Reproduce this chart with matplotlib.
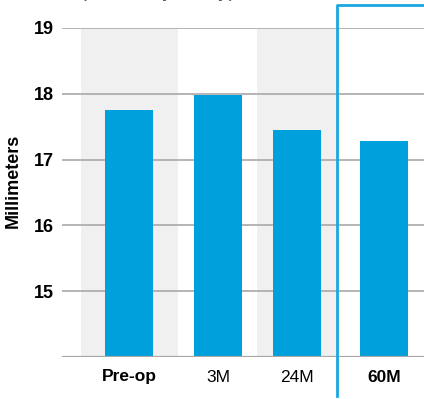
import numpy as np
import matplotlib
matplotlib.use('Agg')
from matplotlib import pyplot as plt

# mean value at each visit
visits = ['Pre-op', '3M', '24M', '60M']
values = [17.76, 17.98, 17.45, 17.29]
bold_visits = ['Pre-op', '60M']
yticks = [15, 16, 17, 18, 19]

# uneven spacing of the columns
xpos = [0, 1.0, 1.888, 2.865]

blue = '#00a0dc'
grid_grey = '#a8a8a8'
band_grey = '#f0f0f0'

plt.rcParams['font.family'] = ['Liberation Sans', 'DejaVu Sans']

fig = plt.figure(figsize=(4.24, 3.99), dpi=100)
ax = fig.add_axes([62 / 424, 1 - 357 / 399, 1 - 62 / 424, (357 - 28) / 399])
ax.set_xlim(-0.753, 3.315)
ax.set_ylim(14, 19)

# grey shading behind alternate columns
ax.axvspan(-0.539, 0.551, color=band_grey, zorder=0, lw=0)
ax.axvspan(1.438, 2.326, color=band_grey, zorder=0, lw=0)

for y in yticks:
    ax.axhline(y, color=grid_grey, lw=1.2, zorder=1)
ax.axhline(14, color=grid_grey, lw=1.6, zorder=3)

ax.bar(xpos, values, width=0.539, bottom=0, color=blue, zorder=2)

# box marking the long-term result
ax.plot([2.337, 2.337, 3.4], [13.4, 19.35, 19.35], color='#1aa7e0', lw=2,
        clip_on=False, zorder=4)

for s in ax.spines.values():
    s.set_visible(False)
ax.tick_params(length=0)
ax.set_yticks(yticks)
ax.set_yticklabels([str(t) for t in yticks], fontsize=13, fontweight='bold')
ax.tick_params(axis='y', pad=6)
ax.set_xticks(xpos)
ax.set_xticklabels(visits, fontsize=12.5)
ax.tick_params(axis='x', pad=9)
for lab in ax.get_xticklabels():
    if lab.get_text() in bold_visits:
        lab.set_fontweight('bold')

fig.text(13 / 424, 1 - 181 / 399, 'Millimeters', rotation=90, fontsize=13,
         fontweight='bold', ha='center', va='center')

# subtitle running off the top edge
fig.text(80 / 424, 1 + 2.5 / 399, '(Mean, by study)', fontsize=15,
         color='#555555', ha='left', va='baseline')

fig.savefig('out.png', dpi=100)
